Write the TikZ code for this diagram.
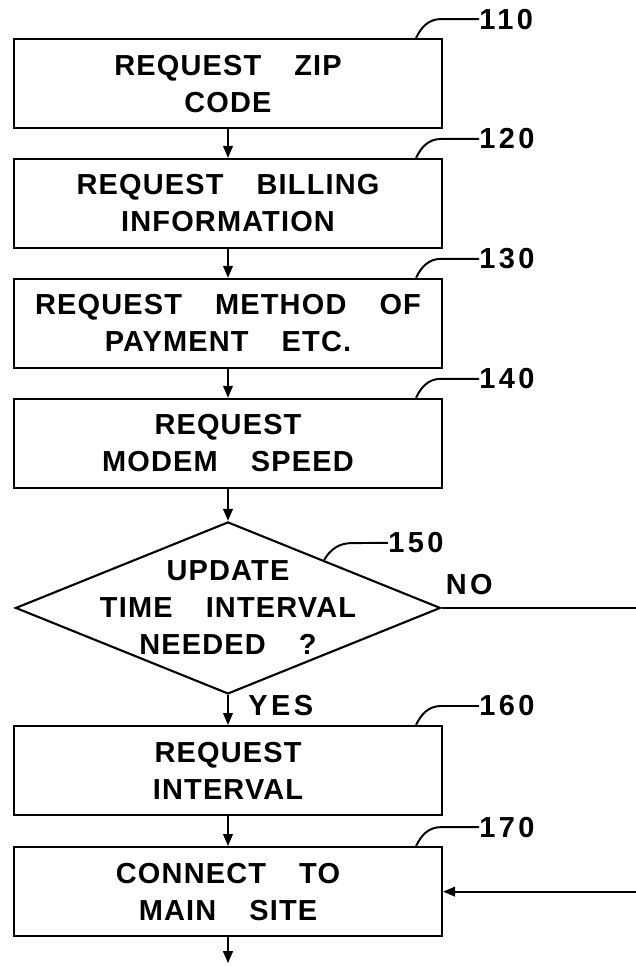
\documentclass[tikz,border=0pt]{standalone}
\usepackage{fontspec}
\newfontfamily\patentfont{Liberation Sans}[WordSpace=3.6,LetterSpace=4]
\newfontfamily\tagfont{Liberation Sans}[LetterSpace=12]
\usetikzlibrary{positioning,shapes.geometric,arrows.meta,calc}

\begin{document}
\begin{tikzpicture}[
        box/.style={draw, line width=1.5pt, minimum width=10.7cm, minimum height=2.225cm,
            inner sep=0pt, align=center, font=\patentfont\bfseries\fontsize{20.6}{26.3}\selectfont},
        decision/.style={draw, diamond, aspect=2.47, line width=1.5pt, minimum width=10.625cm, minimum height=4.3cm,
            inner sep=-1cm, align=center, font=\patentfont\bfseries\fontsize{20.6}{26.3}\selectfont},
        tag/.style={inner sep=0pt, font=\tagfont\bfseries\fontsize{20.6}{26.3}\selectfont},
        flow/.style={line width=1.4pt, -{Triangle[length=0.3cm,width=0.24cm]}},
        leader/.style={line width=1.4pt},
    ]
    \useasboundingbox (0,0) rectangle (15.9,-24.15);

    \node[box] (b110) at (5.7,-2.09) {REQUEST ZIP\\CODE};
    \node[box, below=0.72cm of b110] (b120) {REQUEST BILLING\\INFORMATION};
    \node[box, below=0.72cm of b120] (b130) {REQUEST METHOD OF\\PAYMENT ETC.};
    \node[box, below=0.72cm of b130] (b140) {REQUEST\\MODEM SPEED};
    \node[decision, below=0.8cm of b140] (d150) {UPDATE\\TIME INTERVAL\\NEEDED ?};
    \node[box, below=0.75cm of d150] (b160) {REQUEST\\INTERVAL};
    \node[box, below=0.75cm of b160] (b170) {CONNECT TO\\MAIN SITE};

    \node[tag, right=0.9cm of b110.north east, yshift=0.475cm] (t110) {110};
    \node[tag, right=0.9cm of b120.north east, yshift=0.475cm] (t120) {120};
    \node[tag, right=0.9cm of b130.north east, yshift=0.475cm] (t130) {130};
    \node[tag, right=0.9cm of b140.north east, yshift=0.475cm] (t140) {140};
    \node[tag, right=4.0cm of d150.north, yshift=-0.55cm] (t150) {150};
    \node[tag, right=0.9cm of b160.north east, yshift=0.475cm] (t160) {160};
    \node[tag, right=0.9cm of b170.north east, yshift=0.475cm] (t170) {170};

    \node[tag, above right=0.325cm and 0.1cm of d150.east] (no) {NO};
    \node[tag, below right=0cm and 0.5cm of d150.south] (yes) {YES};

    \coordinate[right=5cm of d150.east] (noend);
    \coordinate[right=5cm of b170.east] (loopin);
    \coordinate[below=0.65cm of b170] (exit);

    \draw[flow] (b110) -- (b120);
    \draw[flow] (b120) -- (b130);
    \draw[flow] (b130) -- (b140);
    \draw[flow] (b140) -- (d150);
    \draw[flow] (d150) -- (b160);
    \draw[flow] (b160) -- (b170);
    \draw[flow] (b170) -- (exit);
    \draw[leader] (d150.east) -- (noend);
    \draw[flow] (loopin) -- (b170.east);

    \draw[leader] ([xshift=-0.675cm]b110.north east) to[out=65,in=180] ++(0.625,0.475) -- (t110.west);
    \draw[leader] ([xshift=-0.675cm]b120.north east) to[out=65,in=180] ++(0.625,0.475) -- (t120.west);
    \draw[leader] ([xshift=-0.675cm]b130.north east) to[out=65,in=180] ++(0.625,0.475) -- (t130.west);
    \draw[leader] ([xshift=-0.675cm]b140.north east) to[out=65,in=180] ++(0.625,0.475) -- (t140.west);
    \draw[leader] ($(d150.north)!0.45!(d150.east)$) to[out=60,in=180] ++(0.7,0.425) -- (t150.west);
    \draw[leader] ([xshift=-0.675cm]b160.north east) to[out=65,in=180] ++(0.625,0.475) -- (t160.west);
    \draw[leader] ([xshift=-0.675cm]b170.north east) to[out=65,in=180] ++(0.625,0.475) -- (t170.west);
\end{tikzpicture}
\end{document}
